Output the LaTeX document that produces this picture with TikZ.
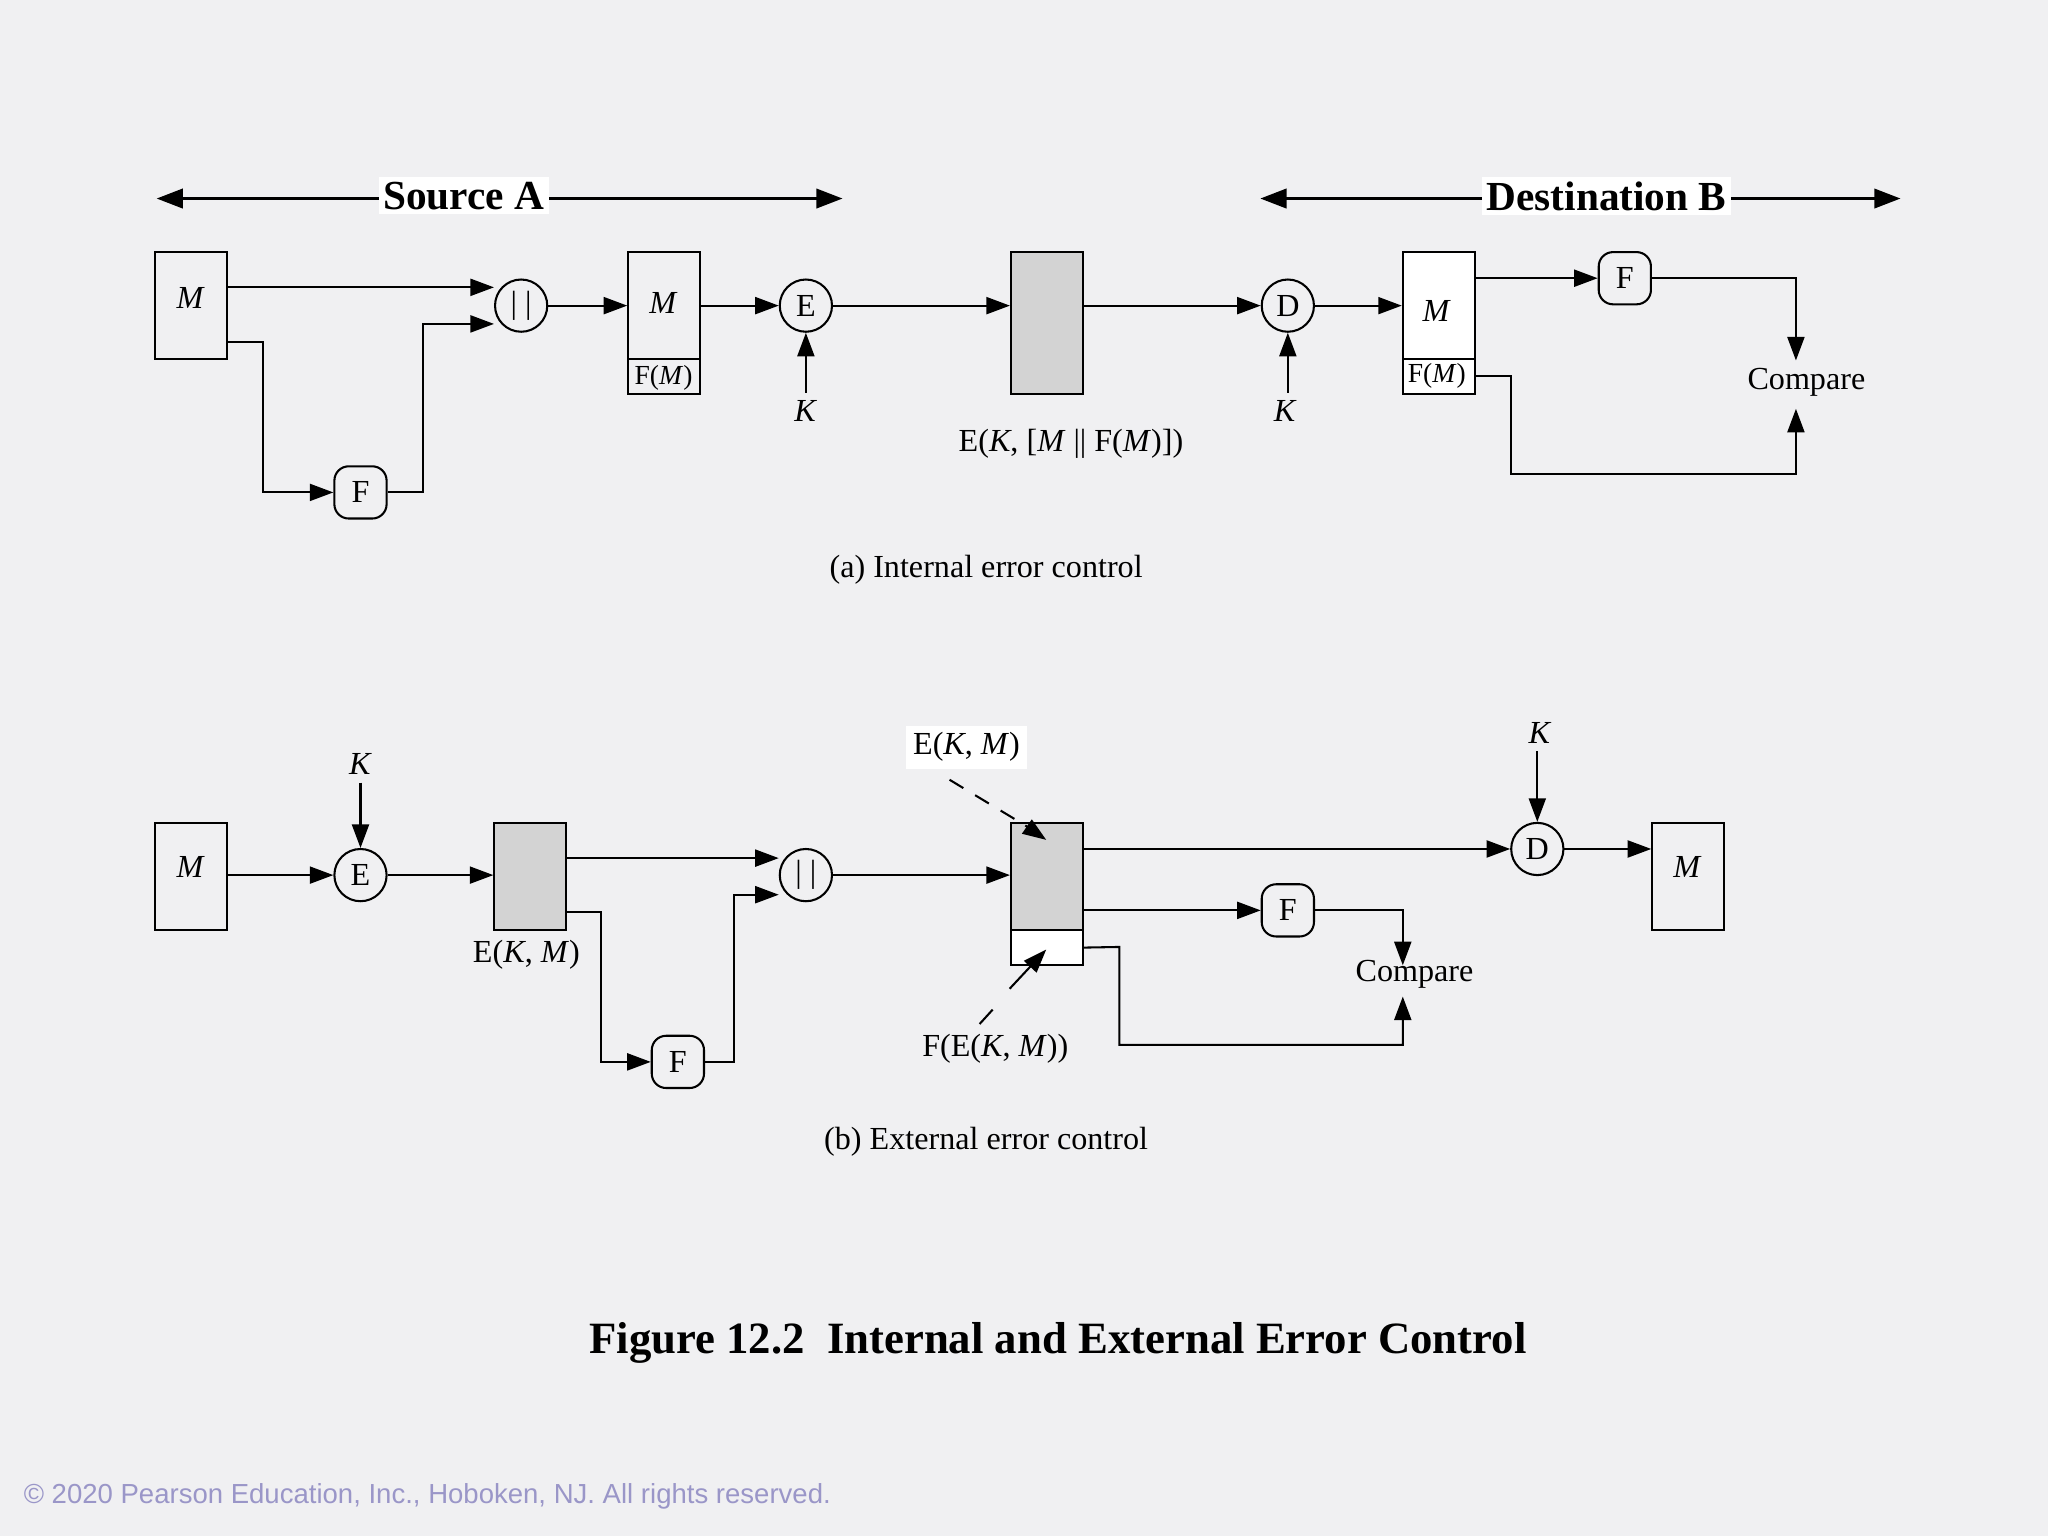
\documentclass[tikz,border=0pt]{standalone}
\usepackage{fontspec}
\setmainfont{Liberation Serif}
\newfontfamily\sansf{Liberation Sans}
\usetikzlibrary{arrows.meta,calc}
\definecolor{bg}{HTML}{F0F0F2}
\definecolor{gbox}{HTML}{D3D3D3}
\definecolor{copyc}{HTML}{9A96C8}
\begin{document}
\begin{tikzpicture}[x=0.02cm,y=-0.02cm,
  every node/.style={font=\fontsize{14}{16}\selectfont},
  ar/.style={-{Triangle[length=0.36cm,width=0.26cm]},line width=0.9pt},
  ln/.style={line width=0.9pt},
  box/.style={draw,line width=0.9pt,minimum width=1.1cm,inner sep=0pt},
  circ/.style={draw,circle,line width=0.9pt,minimum size=0.8cm,inner sep=0pt},
  rnd/.style={draw,rounded corners=0.22cm,line width=0.9pt,minimum size=0.8cm,inner sep=0pt},
  lbl/.style={inner sep=1pt}]
\fill[bg] (0,0) rectangle (1568,1176);
\useasboundingbox (0,0) rectangle (1568,1176);
% ---------- (a)
\coordinate (sa1) at (120,152); \coordinate (sa2) at (645,152);
\draw[{Triangle[length=0.4cm,width=0.3cm]}-{Triangle[length=0.4cm,width=0.3cm]},line width=0.9pt] (sa1) -- (sa2);
\node[fill=white,inner sep=2pt,font=\fontsize{18}{20}\selectfont\bfseries] at (355,150) {Source A};
\coordinate (db1) at (965,152); \coordinate (db2) at (1455,152);
\draw[{Triangle[length=0.4cm,width=0.3cm]}-{Triangle[length=0.4cm,width=0.3cm]},line width=0.9pt] (db1) -- (db2);
\node[fill=white,inner sep=2pt,font=\fontsize{18}{20}\selectfont\bfseries] at (1230,150) {Destination B};

\node[box,minimum height=1.64cm] (ma) at (146.5,234) {};
\node at (146,228) {\textit{M}};
\node[circ] (cc1) at (399,234) {| |};
\node[rnd] (fa) at (276,377) {F};
\draw[ar] (ma.east |- 0,220) -- (cc1.west |- 0,220);
\draw[ar] (ma.east |- 0,262) -- (201,262) -- (201,377) -- (fa.west);
\draw[ar] (fa.east) -- (324,377) -- (324,248) -- (cc1.west |- 0,248);
\node[box,minimum height=2.18cm] (mf1) at (508.5,247.5) {};
\draw[ln] (481,275) -- (536,275);
\node at (508,232) {\textit{M}};
\node[font=\fontsize{12}{14}\selectfont] at (508,289) {F(\textit{M})};
\draw[ar] (cc1.east) -- (mf1.west |- cc1.east);
\node[circ] (ea) at (617,234) {E};
\draw[ar] (mf1.east |- ea.west) -- (ea.west);
\node (ka) at (617,315) {\textit{K}};
\draw[ar] (ka.north) -- (ea.south);
\node[box,fill=gbox,minimum height=2.18cm] (ga) at (801.5,247.5) {};
\draw[ar] (ea.east) -- (ga.west |- ea.east);
\node at (820,340) {E(\textit{K}, [\textit{M} || F(\textit{M})])};
\node[circ] (da) at (986,234) {D};
\draw[ar] (ga.east |- da.west) -- (da.west);
\node (kb) at (984,315) {\textit{K}};
\draw[ar] (kb.north -| da.south) -- (da.south);
\node[box,fill=white,minimum height=2.18cm] (mf2) at (1101.5,247.5) {};
\draw[ln] (1074,275) -- (1129,275);
\node at (1100,238) {\textit{M}};
\node[font=\fontsize{12}{14}\selectfont] at (1100,288) {F(\textit{M})};
\draw[ar] (da.east) -- (mf2.west |- da.east);
\node[rnd] (fb) at (1244,213) {F};
\node (cmpa) at (1383,293) {Compare};
\draw[ar] (mf2.east |- fb.west) -- (fb.west);
\draw[ar] (fb.east) -- (1375,213) -- (1375,276);
\draw[ar] (mf2.east |- 0,288) -- (1157,288) -- (1157,363) -- (1375,363) -- (1375,313);
\node at (755,436) {(a) Internal error control};
% ---------- (b)
\node[box,minimum height=1.64cm] (mb) at (146.5,671) {};
\node at (146,664) {\textit{M}};
\node[circ] (eb) at (276,670) {E};
\node (kc) at (276,585) {\textit{K}};
\draw[ar] (kc.south) -- (eb.north);
\draw[ar] (mb.east |- eb.west) -- (eb.west);
\node[box,fill=gbox,minimum height=1.64cm] (gb) at (406,671) {};
\draw[ar] (eb.east) -- (gb.west |- eb.east);
\node at (403,731) {E(\textit{K}, \textit{M})};
\node[circ] (cc2) at (617,670) {| |};
\node[rnd] (fc) at (519,813) {F};
\draw[ar] (gb.east |- 0,657) -- (cc2.west |- 0,657);
\draw[ar] (gb.east |- 0,698) -- (460,698) -- (460,813) -- (fc.west);
\draw[ar] (fc.east) -- (562,813) -- (562,685) -- (cc2.west |- 0,685);
\node[box,fill=gbox,minimum height=1.64cm] (gc) at (801.5,671) {};
\node[box,fill=white,minimum height=0.54cm] (gcs) at (801.5,725.5) {};
\draw[ar] (cc2.east) -- (gc.west |- cc2.east);
\node[circ] (db) at (1177,650) {D};
\node (kd) at (1179,561) {\textit{K}};
\draw[ar] (kd.south -| db.north) -- (db.north);
\draw[ar] (gc.east |- db.west) -- (db.west);
\node[box,minimum height=1.64cm] (mc) at (1292.5,671) {};
\node at (1292,664) {\textit{M}};
\draw[ar] (db.east) -- (mc.west |- db.east);
\node[rnd] (fd) at (986,697) {F};
\node (cmpb) at (1083,746) {Compare};
\draw[ar] (gc.east |- fd.west) -- (fd.west);
\draw[ar] (fd.east) -- (1074,697) -- (1074,739);
\draw[ar] (gcs.east) -- (857,725) -- (857,800) -- (1074,800) -- (1074,763);
\node[fill=white,inner sep=3pt] (lek) at (740,572) {E(\textit{K}, \textit{M})};
\coordinate (t1) at (801,643);
\draw[ln,dash pattern=on 7pt off 6pt] (727,597) -- (785,632);
\draw[ar] (785,632) -- (t1);
\node (lfe) at (762,803) {F(E(\textit{K}, \textit{M}))};
\coordinate (t2) at (801,727);
\draw[ln] (750,784) -- (760,773);
\draw[ar] (773,757) -- (t2);
\node at (755,874) {(b) External error control};
\node[font=\fontsize{19.5}{22}\selectfont\bfseries] at (810,1028) {Figure 12.2\ \ Internal and External Error Control};
\node[anchor=west,text=copyc,font=\sansf\fontsize{12}{14}\selectfont] at (12,1146) {© 2020 Pearson Education, Inc., Hoboken, NJ. All rights reserved.};
\end{tikzpicture}
\end{document}
